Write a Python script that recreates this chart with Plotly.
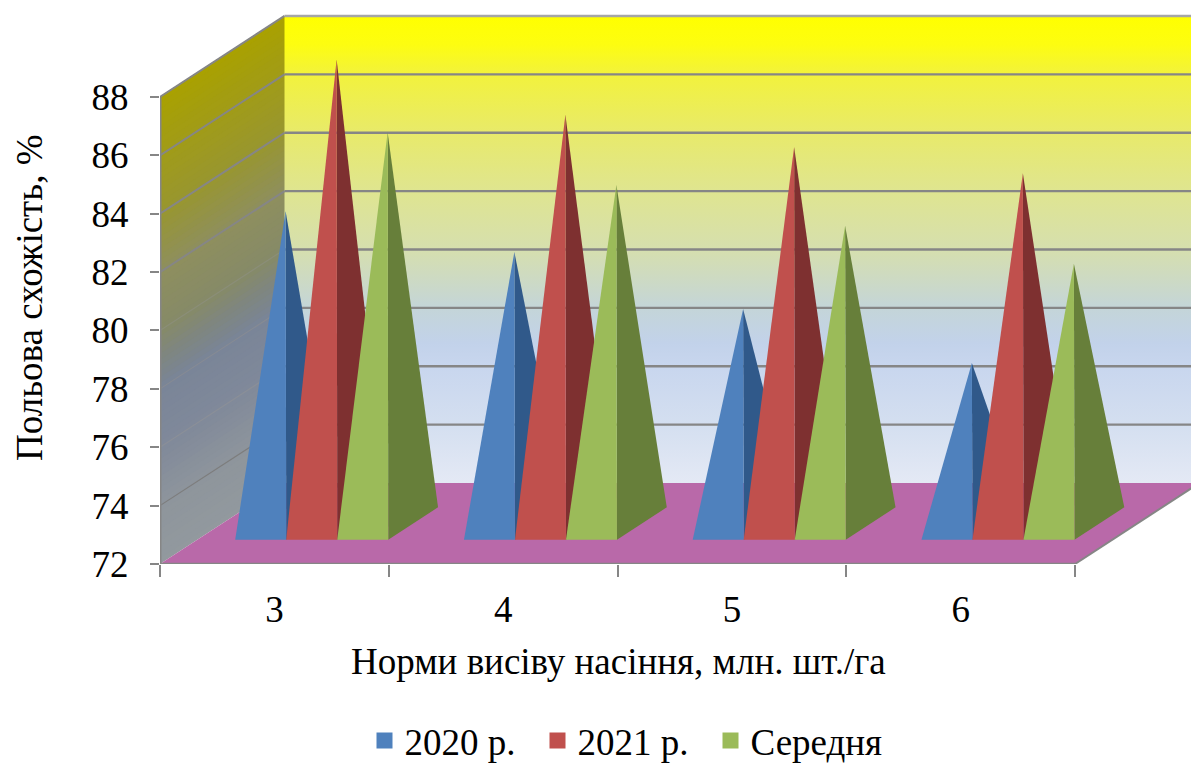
import plotly.graph_objects as go

# Chart data
categories = ["3", "4", "5", "6"]
series_names = ["2020 р.", "2021 р.", "Середня"]
values_2020 = [82.7, 81.3, 79.35, 77.5]
values_2021 = [87.9, 86.0, 84.9, 84.0]
values_mean = [85.4, 83.6, 82.2, 80.9]
y_ticks = [72, 74, 76, 78, 80, 82, 84, 86, 88]

all_values = [values_2020, values_2021, values_mean]
front_colors = ["#4f81bd", "#c0504d", "#9bbb59"]
side_colors = ["#30598a", "#7e3030", "#677f3a"]
GRID = "#868686"
FONT = "Liberation Serif"

# Plot-area geometry, in pixels
W, H = 1191, 764
LEFT, BOTTOM_PX = 160, 564
CAT_PX = 228.75
UNIT_PX = 29.19
DEPTH_X_PX, DEPTH_Y_PX = 124.5, 81.0
DX = DEPTH_X_PX / CAT_PX
DY = DEPTH_Y_PX / UNIT_PX
BAR_W = 0.223
BASE = y_ticks[0]
TOP = y_ticks[-1]
X0, X1 = -0.5, len(categories) - 0.5


def project(x, v, d):
    """Oblique projection of (category, value, depth 0..1) onto the plane."""
    return x + DX * d, v + DY * d


def poly(points, color):
    xs, ys = zip(*(project(*p) for p in points))
    return go.Scatter(
        x=list(xs) + [xs[0]], y=list(ys) + [ys[0]], mode="lines", fill="toself",
        fillcolor=color, line=dict(width=0, color=color),
        hoverinfo="skip", showlegend=False,
    )


def segment(a, b, width=2, color=GRID):
    xs, ys = zip(project(*a), project(*b))
    return go.Scatter(
        x=list(xs), y=list(ys), mode="lines", line=dict(width=width, color=color),
        hoverinfo="skip", showlegend=False, cliponaxis=False,
    )


def hex_rgb(h):
    return tuple(int(h[i:i + 2], 16) for i in (1, 3, 5))


def blend(stops, t):
    for (t0, c0), (t1, c1) in zip(stops, stops[1:]):
        if t <= t1:
            k = (t - t0) / (t1 - t0)
            a, b = hex_rgb(c0), hex_rgb(c1)
            return "rgb(%d,%d,%d)" % tuple(round(p + (q - p) * k) for p, q in zip(a, b))
    return stops[-1][1]


fig = go.Figure()

# Side wall: shaded bands running parallel to the gridlines, painted bottom-up
side_stops = [(0.0, "#92999e"), (0.125, "#8e959c"), (0.25, "#80899a"), (0.375, "#7a8598"),
              (0.44, "#7f8680"), (0.5, "#868a68"), (0.625, "#8e8f5e"), (0.75, "#989630"),
              (1.0, "#a9a100")]
n_strips = 80
for i in range(n_strips):
    v0 = BASE + (TOP - BASE) * i / n_strips
    c = blend(side_stops, (i + 0.5) / n_strips)
    fig.add_trace(poly([(X0, v0, 0), (X0, v0, 1), (X0, TOP, 1), (X0, TOP, 0)], c))

# Back wall with a vertical gradient
wall = [(X0, BASE, 1), (X1, BASE, 1), (X1, TOP, 1), (X0, TOP, 1), (X0, BASE, 1)]
wx, wy = zip(*(project(*p) for p in wall))
fig.add_trace(go.Scatter(
    x=list(wx), y=list(wy), mode="lines", fill="toself", line=dict(width=0),
    fillgradient=dict(type="vertical", colorscale=[
        [0.0, "#e4e9f5"], [0.125, "#d4dff0"], [0.25, "#c8d6ee"], [0.3, "#c2d2ea"],
        [0.375, "#c4d5d8"], [0.5, "#d6dfae"], [0.625, "#dfe590"], [0.75, "#e8ea6a"],
        [0.875, "#f2f23c"], [0.94, "#fdfd10"], [1.0, "#ffff00"],
    ]),
    hoverinfo="skip", showlegend=False,
))

# Gridlines across both walls; on the grey part of the side wall they nearly vanish
side_line = {74: ("#7d7d7d", 1.2), 76: ("#8a8f98", 1.2), 78: ("#868b94", 1.2), 80: ("#8b8e78", 1.2)}
for v in y_ticks:
    color, width = side_line.get(v, (GRID, 2))
    if v > BASE:
        fig.add_trace(segment((X0, v, 0), (X0, v, 1), width, color))
        top_line = "#a6a6a6" if v == TOP else GRID
        fig.add_trace(segment((X0, v, 1), (X1, v, 1), 2.4, top_line))

# Floor
fig.add_trace(poly([(X0, BASE, 0), (X1, BASE, 0), (X1, BASE, 1), (X0, BASE, 1)], "#b969a9"))

# Pyramids, left to right so each one overlaps the dark side of its neighbour
FRONT_D, APEX_D, BACK_D = 0.3, 0.5, 0.7
for ci in range(len(categories)):
    for si, vals in enumerate(all_values):
        left = ci - 1.5 * BAR_W + si * BAR_W
        right = left + BAR_W
        mid = (left + right) / 2
        apex = (mid, vals[ci], APEX_D)
        fig.add_trace(poly([(right, BASE, FRONT_D), (right, BASE, BACK_D), apex], side_colors[si]))
        fig.add_trace(poly([(left, BASE, FRONT_D), (right, BASE, FRONT_D), apex], front_colors[si]))

# Outer edges of the box
fig.add_trace(segment((X0, BASE, 0), (X0, TOP, 0), 3))
fig.add_trace(segment((X0, BASE, 0), (X1, BASE, 0), 2.5))
fig.add_trace(segment((X1, BASE, 0), (X1, BASE, 1), 2))

# Legend entries
for name, color in zip(series_names, front_colors):
    fig.add_trace(go.Scatter(
        x=[None], y=[None], mode="markers", name=name,
        marker=dict(symbol="square", size=18, color=color),
    ))

fig.update_layout(
    width=W, height=H, autosize=False,
    margin=dict(l=LEFT, r=0, t=0, b=H - BOTTOM_PX, pad=0, autoexpand=False),
    paper_bgcolor="white", plot_bgcolor="white",
    font=dict(family=FONT, color="black", size=37),
    hovermode=False,
    xaxis=dict(
        range=[X0, X0 + (W - LEFT) / CAT_PX], showgrid=False, zeroline=False, showline=False,
        tickmode="array", tickvals=list(range(len(categories))), ticktext=categories,
        ticks="", ticklabelstandoff=20, tickfont=dict(size=37),
        minor=dict(tickmode="array", tickvals=[i - 0.5 for i in range(len(categories) + 1)],
                   ticks="outside", ticklen=12, tickwidth=2, tickcolor=GRID, showgrid=False),
    ),
    yaxis=dict(
        range=[BASE, BASE + BOTTOM_PX / UNIT_PX], showgrid=False, zeroline=False, showline=False,
        tickmode="array", tickvals=y_ticks, ticks="outside", ticklen=9, tickwidth=2, tickcolor=GRID,
        ticklabelstandoff=14, tickfont=dict(size=37),
    ),
    legend=dict(
        orientation="h", x=(624 - LEFT) / (W - LEFT), xanchor="center",
        y=-(741 - BOTTOM_PX) / BOTTOM_PX, yanchor="middle",
        font=dict(size=37), itemsizing="trace", bgcolor="rgba(0,0,0,0)", itemwidth=30,
        traceorder="normal", entrywidth=128, entrywidthmode="pixels",
    ),
    annotations=[
        dict(text="Норми висіву насіння, млн. шт./га", xref="paper", yref="paper",
             x=(618 - LEFT) / (W - LEFT), y=-(661 - BOTTOM_PX) / BOTTOM_PX,
             xanchor="center", yanchor="middle", showarrow=False, font=dict(size=37)),
        dict(text="Польова схожість, %", xref="paper", yref="paper",
             x=(29 - LEFT) / (W - LEFT), y=1 - 298 / BOTTOM_PX,
             xanchor="center", yanchor="middle", textangle=-90, showarrow=False, font=dict(size=37)),
    ],
)

fig.write_html("out.html")
